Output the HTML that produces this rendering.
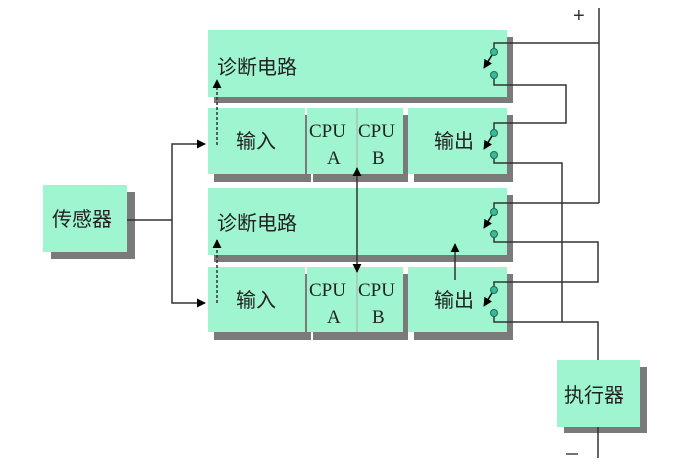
<!DOCTYPE html>
<html><head><meta charset="utf-8"><style>
html,body{margin:0;padding:0;background:#fff;}
svg{display:block;}
.t{font-family:"Liberation Sans","Noto Sans CJK SC",sans-serif;font-size:20px;fill:#222;}
.s{font-family:"Liberation Serif",serif;font-size:19px;fill:#222;}
</style></head><body>
<svg width="680" height="473" viewBox="0 0 680 473" xmlns="http://www.w3.org/2000/svg">
<defs>
<marker id="ar" viewBox="0 0 10 10" refX="9" refY="5" markerWidth="6" markerHeight="6" orient="auto-start-reverse"><path d="M0,0L10,5L0,10z" fill="#000"/></marker>
</defs>
<g fill="#7a7a7a">
<rect x="214" y="37" width="299" height="66"/>
<rect x="214" y="115" width="97" height="67"/>
<rect x="313" y="115" width="95" height="67"/>
<rect x="414" y="115" width="99" height="67"/>
<rect x="214" y="195" width="299" height="67"/>
<rect x="214" y="274" width="97" height="66"/>
<rect x="313" y="274" width="95" height="66"/>
<rect x="414" y="274" width="99" height="66"/>
<rect x="51" y="192" width="84" height="67"/>
<rect x="564" y="367" width="83" height="66"/>
</g>
<g fill="#9ef5cf">
<rect x="208" y="30" width="299" height="67"/>
<rect x="208" y="108" width="97" height="66"/>
<rect x="307" y="108" width="96" height="66"/>
<rect x="408" y="108" width="99" height="66"/>
<rect x="208" y="188" width="299" height="67"/>
<rect x="208" y="267" width="97" height="65"/>
<rect x="307" y="267" width="96" height="65"/>
<rect x="408" y="267" width="99" height="65"/>
<rect x="43" y="185" width="84" height="67"/>
<rect x="557" y="360" width="83" height="67"/>
</g>
<g stroke="#aaa" stroke-width="1"><line x1="357" y1="108" x2="357" y2="174"/><line x1="357" y1="267" x2="357" y2="332"/></g>
<text class="t" x="217" y="74" font-size="21">诊断电路</text>
<text class="t" x="217" y="230" font-size="21">诊断电路</text>
<text class="t" x="236" y="148">输入</text>
<text class="t" x="236" y="307">输入</text>
<text class="t" x="434" y="148">输出</text>
<text class="t" x="434" y="307">输出</text>
<text class="t" x="52" y="226" font-size="21">传感器</text>
<text class="t" x="564" y="402" font-size="22">执行器</text>
<text class="s" x="309" y="137">CPU</text><text class="s" x="358" y="137">CPU</text>
<text class="s" x="327" y="164">A</text><text class="s" x="372" y="164">B</text>
<text class="s" x="309" y="296">CPU</text><text class="s" x="358" y="296">CPU</text>
<text class="s" x="327" y="323">A</text><text class="s" x="372" y="323">B</text>
<text x="573" y="22" font-family="Liberation Sans,sans-serif" font-size="20" fill="#333">+</text>
<line x1="566" y1="454" x2="578" y2="454" stroke="#444" stroke-width="1.5"/>
<g stroke="#333" stroke-width="1.5" fill="none">
<polyline points="127,220 172,220"/>
<polyline points="205,144 172,144 172,303 205,303" marker-start="url(#ar)" marker-end="url(#ar)"/>
<line x1="357" y1="168" x2="357" y2="272" marker-start="url(#ar)" marker-end="url(#ar)"/>
<line x1="455" y1="280" x2="455" y2="244" marker-end="url(#ar)"/>
<line x1="217" y1="145" x2="217" y2="80" stroke-dasharray="3,2" marker-end="url(#ar)"/>
<line x1="217" y1="303" x2="217" y2="240" stroke-dasharray="3,2" marker-end="url(#ar)"/>
<line x1="599" y1="8" x2="599" y2="203"/>
<polyline points="494,52 494,43 599,43"/>
<polyline points="494,75 494,85 566,85 566,123 494,123 494,133"/>
<polyline points="494,155 494,163 562,163 562,322"/>
<polyline points="494,212 494,203 599,203"/>
<polyline points="494,234 494,242 598,242 598,282 494,282 494,290"/>
<polyline points="494,313 494,322 598,322 598,360"/>
<line x1="598" y1="427" x2="598" y2="458"/>
</g>
<g stroke="#000" stroke-width="1.5">
<line x1="492" y1="55" x2="484" y2="68" marker-end="url(#ar)"/>
<line x1="492" y1="136" x2="484" y2="149" marker-end="url(#ar)"/>
<line x1="492" y1="215" x2="484" y2="228" marker-end="url(#ar)"/>
<line x1="492" y1="293" x2="484" y2="306" marker-end="url(#ar)"/>
</g>
<g fill="#3cb89a" stroke="#1f6b55" stroke-width="1">
<circle cx="494" cy="52" r="3.5"/><circle cx="494" cy="75" r="3.5"/>
<circle cx="494" cy="133" r="3.5"/><circle cx="494" cy="155" r="3.5"/>
<circle cx="494" cy="212" r="3.5"/><circle cx="494" cy="234" r="3.5"/>
<circle cx="494" cy="290" r="3.5"/><circle cx="494" cy="313" r="3.5"/>
</g>
</svg>
</body></html>
